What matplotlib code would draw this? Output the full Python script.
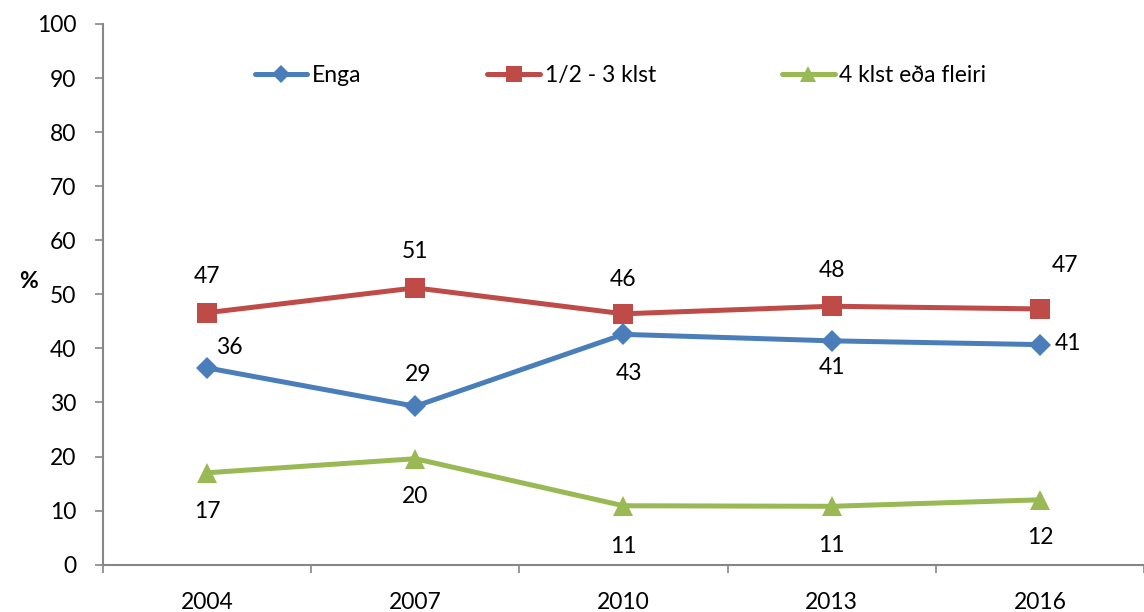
import matplotlib
matplotlib.use("Agg")
import matplotlib.pyplot as plt
from matplotlib.ticker import FixedLocator

years = ["2004", "2007", "2010", "2013", "2016"]
enga = [36.4, 29.3, 42.6, 41.4, 40.7]
half_to_three = [46.6, 51.2, 46.4, 47.8, 47.3]
four_plus = [17.0, 19.6, 10.9, 10.8, 12.0]
series_names = ["Enga", "1/2 - 3 klst", "4 klst eða fleiri"]
y_ticks = list(range(0, 101, 10))

# label offsets (points) relative to each data point
enga_off = [(16, 15), (2, 23), (4, -28), (0, -19), (20, 1)]
half_off = [(0, 26), (0, 26), (0, 25), (0, 26), (18, 31)]
four_off = [(0, -28), (0, -27), (0, -29), (0, -28), (0, -27)]

colors = ["#4A7EBB", "#BE4B48", "#98B954"]
markers = ["D", "s", "^"]
msizes = [11, 14, 14]

FS = 16.5
plt.rcParams['font.family'] = ['Lato', 'DejaVu Sans']
fig = plt.figure(figsize=(11.44, 6.12), dpi=100)
ax = fig.add_axes([0.090, 0.0773, 0.910, 0.8835])

x = list(range(len(years)))
for vals, offs, name, c, m, ms in zip([enga, half_to_three, four_plus],
                                       [enga_off, half_off, four_off],
                                       series_names, colors, markers, msizes):
    ax.plot(x, vals, color=c, lw=3.6, marker=m, markersize=ms,
            markeredgewidth=0, label=name, solid_capstyle='round', zorder=3)
    for xi, v, (dx, dy) in zip(x, vals, offs):
        ax.annotate(f"{v:.0f}", (xi, v), xytext=(dx, dy), textcoords='offset points',
                    ha='center', va='center', fontsize=FS, color='black')

ax.set_xlim(-0.5, len(years) - 0.5)
ax.set_ylim(0, 100)
ax.set_yticks(y_ticks)
ax.set_yticklabels([str(t) for t in y_ticks], fontsize=FS)
ax.set_xticks(x)
ax.set_xticklabels(years, fontsize=FS)
ax.tick_params(axis='x', which='major', length=0, pad=20)
ax.xaxis.set_minor_locator(FixedLocator([i - 0.5 for i in range(len(years) + 1)]))
ax.tick_params(axis='x', which='minor', length=6, width=1.2, color='#868686', direction='out')
ax.tick_params(axis='y', length=6, width=1.2, color='#868686', direction='out', pad=13)

for s in ['top', 'right']:
    ax.spines[s].set_visible(False)
for s in ['left', 'bottom']:
    ax.spines[s].set_color('#868686')
    ax.spines[s].set_linewidth(1.5)

ax.set_ylabel('%', rotation=0, fontsize=FS, fontweight='bold')
ax.yaxis.set_label_coords(-0.072, 0.505)

leg = ax.legend(loc='center', bbox_to_anchor=(0.497, 0.905), ncol=3, frameon=False,
                fontsize=FS, handlelength=2.3, handletextpad=0.2, columnspacing=5.5,
                markerscale=0.85)

fig.savefig("out.png", dpi=100)
